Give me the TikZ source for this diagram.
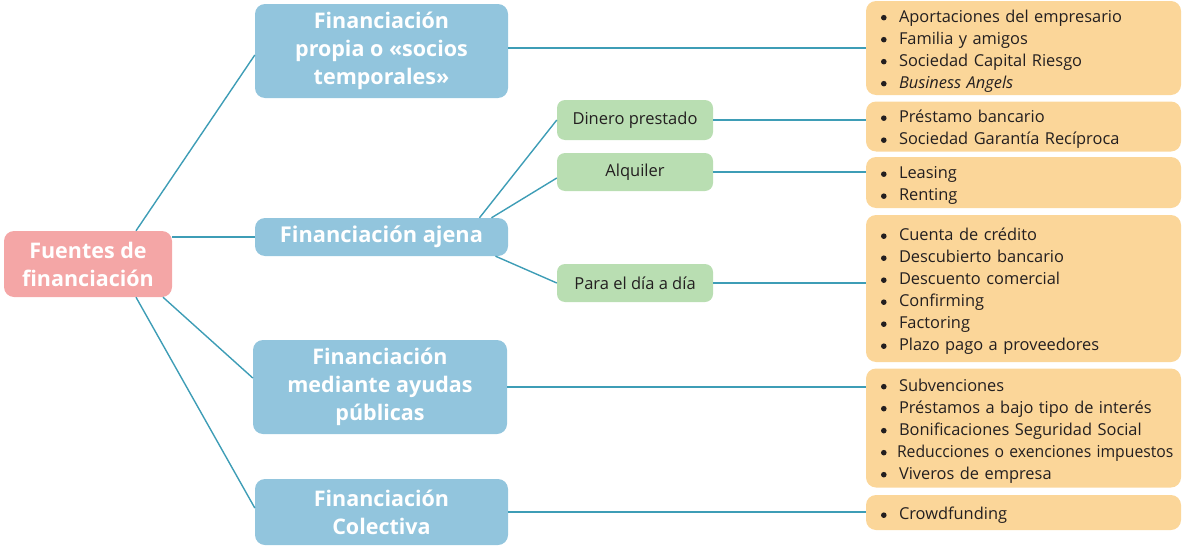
\documentclass[tikz,border=0pt]{standalone}
\usepackage{fontspec}
\setmainfont{Open Sans}
\usetikzlibrary{calc}
\definecolor{cpink}{HTML}{F4A6A6}
\definecolor{cblue}{HTML}{92C5DD}
\definecolor{cgreen}{HTML}{B9DEB2}
\definecolor{corange}{HTML}{FBD699}
\definecolor{cline}{HTML}{3E9DB6}
\definecolor{ctext}{HTML}{231F20}
\newcommand\itm[1]{\mbox{\makebox[21pt][l]{\hspace{3pt}\tikz[baseline=-4.6pt]\fill[ctext] (0pt,0pt) circle (2.8pt);}#1}}
\begin{document}
\begin{tikzpicture}[x=1pt,y=-1pt,
  box/.style={rounded corners=10pt, inner sep=0pt, align=center},
  mainbox/.style={box, fill=cpink, text=white, font=\fontsize{21.5}{28}\selectfont\bfseries},
  catbox/.style={box, fill=cblue, text=white, font=\fontsize{21.5}{28}\selectfont\bfseries},
  subbox/.style={box, fill=cgreen, text=ctext, rounded corners=8pt, minimum width=156pt, font=\fontsize{16.5}{20}\selectfont},
  listbox/.style={box, fill=corange, text=ctext, align=left, text width=291pt, inner xsep=12pt, inner ysep=0pt,
    font=\fontsize{16.4}{22}\selectfont, execute at begin node={\rule{0pt}{18.5pt}}},
  link/.style={draw=cline, line width=1.4pt}]
\useasboundingbox (0,0) rectangle (1189,546);

\node[mainbox, minimum width=168pt, minimum height=66pt] (fuentes) at (88,264) {Fuentes de\\financiación};

\node[catbox, minimum width=253pt, minimum height=94pt] (propia) at (381.5,51) {Financiación\\propia o «socios\\temporales»};
\node[catbox, minimum width=253pt, minimum height=38pt, font=\fontsize{21.8}{28}\selectfont\bfseries] (ajena) at (381.5,237) {Financiación ajena};
\node[catbox, minimum width=254pt, minimum height=94pt] (ayudas) at (380,387) {Financiación\\mediante ayudas\\públicas};
\node[catbox, minimum width=253pt, minimum height=66pt] (colectiva) at (381.5,512) {Financiación\\Colectiva};

\node[subbox, minimum height=40pt] (dinero) at (635,120) {Dinero prestado};
\node[subbox, minimum height=38pt] (alquiler) at (635,172) {Alquiler};
\node[subbox, minimum height=38pt] (para) at (635,283) {Para el día a día};

\node[listbox, minimum height=94pt] (box1) at (1023.5,48) {\itm{Aportaciones del empresario}\\\itm{Familia y amigos}\\\itm{Sociedad Capital Riesgo}\\\itm{\itshape Business Angels}};
\node[listbox, minimum height=50pt] (box2) at (1023.5,126.5) {\itm{Préstamo bancario}\\\itm{Sociedad Garantía Recíproca}};
\node[listbox, minimum height=51pt] (box3) at (1023.5,182.5) {\itm{Leasing}\\\itm{Renting}};
\node[listbox, minimum height=147pt] (box4) at (1023.5,288.5) {\itm{Cuenta de crédito}\\\itm{Descubierto bancario}\\\itm{Descuento comercial}\\\itm{Confirming}\\\itm{Factoring}\\\itm{Plazo pago a proveedores}};
\node[listbox, minimum height=119pt] (box5) at (1023.5,428) {\itm{Subvenciones}\\\itm{Préstamos a bajo tipo de interés}\\\itm{Bonificaciones Seguridad Social}\\\itm{\hspace{-2pt}\scalebox{0.96}[1]{Reducciones o exenciones impuestos}}\\\itm{Viveros de empresa}};
\node[listbox, minimum height=35pt] (box6) at (1023.5,512.5) {\itm{Crowdfunding}};

\draw[link] ([xshift=48pt]fuentes.north) -- ([yshift=-4pt]propia.west);
\draw[link] (fuentes.east |- ajena.west) -- (ajena.west);
\draw[link] ([xshift=75pt]fuentes.south) -- ([yshift=9pt]ayudas.west);
\draw[link] ([xshift=48pt]fuentes.south) -- ([yshift=4pt]colectiva.west);

\draw[link] ([xshift=98pt]ajena.north) -- (dinero.west);
\draw[link] ([xshift=110pt]ajena.north) -- ([yshift=-6pt]alquiler.west);
\draw[link] ([xshift=114pt]ajena.south) -- (para.west);

\draw[link] (propia.east |- box1.west) -- (box1.west);
\draw[link] (dinero.east) -- (dinero.east -| box2.west);
\draw[link] (alquiler.east) -- (alquiler.east -| box3.west);
\draw[link] (para.east) -- (para.east -| box4.west);
\draw[link] (ayudas.east) -- (ayudas.east -| box5.west);
\draw[link] (colectiva.east) -- (colectiva.east -| box6.west);
\end{tikzpicture}
\end{document}
